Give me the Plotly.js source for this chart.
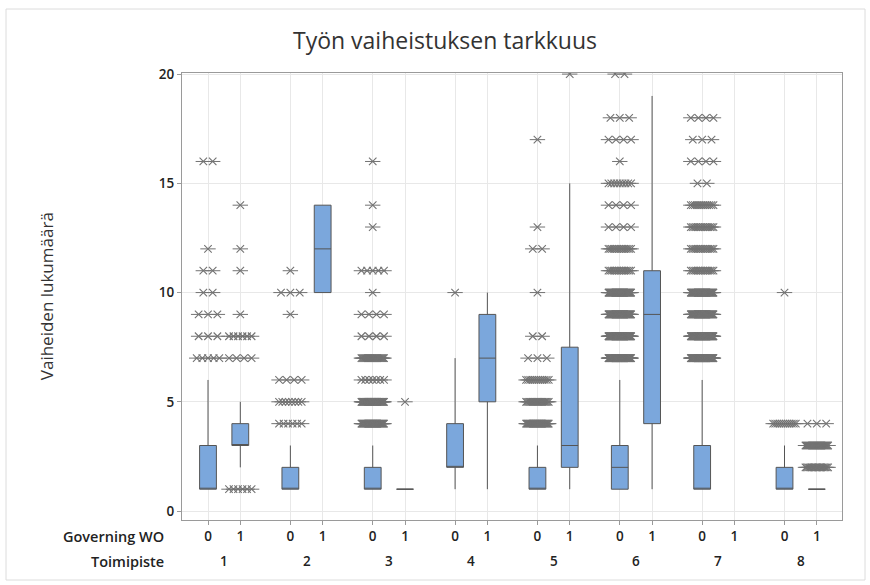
<!DOCTYPE html>
<html><head><meta charset="utf-8">
<script src="https://cdn.plot.ly/plotly-3.0.1.min.js"></script>
<style>html,body{margin:0;padding:0;background:#fff}#chart{width:870px;height:585px}</style>
</head><body><div id="chart"></div>
<script>
// ---- data ----
const toimipiste = [1,2,3,4,5,6,7,8];
const governingWO = [0,1];
const boxGroup = [1,1,2,2,3,3,4,4,5,5,6,6,7,8,8];
const boxWO    = [0,1,0,1,0,1,0,1,0,1,0,1,0,0,1];
const q1           = [1,3,1,10,1,1,2,5,1,2,  1,4, 1,1,1];
const median       = [1,3,1,12,1,1,2,7,1,3,  2,9, 1,1,1];
const q3           = [3,4,2,14,2,1,4,9,2,7.5,3,11,3,2,1];
const lowerWhisker = [1,2,1,10,1,1,1,1,1,1,  1,1, 1,1,1];
const upperWhisker = [6,5,3,14,3,1,7,10,3,15,6,19,6,3,1];
const outlierValues = [
  [7,8,9,10,11,12,16],
  [1,7,8,9,11,12,14],
  [4,5,6,9,10,11],
  [],
  [4,5,6,7,8,9,10,11,13,14,16],
  [5],
  [10],
  [],
  [4,5,6,7,8,10,12,13,17],
  [20],
  [7,8,9,10,11,12,13,14,15,16,17,18,20],
  [],
  [7,8,9,10,11,12,13,14,15,16,17,18],
  [4,10],
  [2,3,4]
];
const outlierCounts = [
  [5,3,3,2,2,1,2],
  [6,4,6,1,1,1,1],
  [6,8,4,1,3,1],
  [],
  [40,40,7,25,4,4,1,5,1,1,1],
  [1],
  [1],
  [],
  [35,20,12,3,2,1,2,1,1],
  [1],
  [60,60,60,60,14,14,4,4,9,1,4,3,2],
  [],
  [60,60,60,60,14,14,14,12,2,4,3,4],
  [12,1],
  [18,24,3]
];

// ---- layout helpers ----
const GROUP_STEP = 2.55;
const pos = (g, w) => (g - 1) * GROUP_STEP + w;
const BOX_FILL = '#7BA7DC', BOX_LINE = '#555555', STAR = '#737373';

const traces = [];
for (let i = 0; i < boxGroup.length; i++) {
  traces.push({
    type: 'box', x: [pos(boxGroup[i], boxWO[i])],
    q1: [q1[i]], median: [median[i]], q3: [q3[i]],
    lowerfence: [lowerWhisker[i]], upperfence: [upperWhisker[i]],
    width: 0.52, fillcolor: BOX_FILL,
    line: {color: BOX_LINE, width: 1}, whiskerwidth: 0,
    hoverinfo: 'skip', showlegend: false
  });
}
const sx = [], sy = [];
for (let i = 0; i < boxGroup.length; i++) {
  const c = pos(boxGroup[i], boxWO[i]);
  outlierValues[i].forEach((v, j) => {
    const n = outlierCounts[i][j];
    const sp = n > 1 ? Math.min(0.29, 0.70 / (n - 1)) : 0;
    for (let k = 0; k < n; k++) { sx.push(c + (k - (n - 1) / 2) * sp); sy.push(v); }
  });
}
traces.push({type:'scatter', mode:'markers', x:sx, y:sy, hoverinfo:'skip', showlegend:false,
  marker:{symbol:'line-ew-open', size:11, color:STAR, line:{color:STAR, width:1}}});
traces.push({type:'scatter', mode:'markers', x:sx, y:sy, hoverinfo:'skip', showlegend:false,
  marker:{symbol:'x-thin-open', size:7.5, color:STAR, line:{color:STAR, width:1.1}}});

const tickvals = [], ticktext = [];
toimipiste.forEach(g => governingWO.forEach(w => { tickvals.push(pos(g, w)); ticktext.push(String(w)); }));

const FONT = 'Open Sans, Noto Sans, sans-serif';
const annotations = toimipiste.map(g => ({
  text: String(g), xref: 'x', yref: 'paper', x: pos(g, 0) + 0.5, y: -0.092,
  xanchor: 'center', yanchor: 'middle', showarrow: false,
  font: {family: FONT, size: 13.5, color: '#222', weight: 600}
}));
annotations.push({text:'Governing WO', xref:'paper', yref:'paper', x:-0.024, y:-0.038,
  xanchor:'right', yanchor:'middle', showarrow:false, font:{family:FONT, size:14.5, color:'#222', weight:600}});
annotations.push({text:'Toimipiste', xref:'paper', yref:'paper', x:-0.024, y:-0.092,
  xanchor:'right', yanchor:'middle', showarrow:false, font:{family:FONT, size:14.5, color:'#222', weight:600}});
annotations.push({text:'Vaiheiden lukumäärä', xref:'paper', yref:'paper', x:-0.205, y:0.5,
  xanchor:'center', yanchor:'middle', textangle:-90, showarrow:false, font:{family:FONT, size:17, color:'#333'}});

const layout = {
  width: 870, height: 585,
  margin: {l: 182, r: 28, t: 73, b: 65},
  paper_bgcolor: '#fff', plot_bgcolor: '#fff',
  title: {text: 'Työn vaiheistuksen tarkkuus', x: 0.5115, xref: 'container', xanchor: 'center',
          y: 0.93, yref: 'container', yanchor: 'middle', font: {family: FONT, size: 23, color: '#333'}},
  xaxis: {range: [-0.805, 19.63], tickvals: tickvals, ticktext: ticktext, showgrid: true,
          gridcolor: '#e8e8e8', zeroline: false, showline: true, linecolor: '#9a9a9a', mirror: true,
          ticks: 'outside', ticklen: 4, tickcolor: '#9a9a9a',
          tickfont: {family: FONT, size: 13.5, color: '#222', weight: 600}},
  yaxis: {range: [-0.41, 20.05], tickvals: [0,5,10,15,20], showgrid: true, gridcolor: '#e8e8e8',
          zeroline: false, showline: true, linecolor: '#9a9a9a', mirror: true,
          ticks: 'outside', ticklen: 4, tickcolor: '#9a9a9a',
          tickfont: {family: FONT, size: 13.5, color: '#222', weight: 600}},
  annotations: annotations,
  shapes: [{type:'rect', xref:'paper', yref:'paper', x0:(6-182)/660, x1:(865-182)/660,
            y0:(520-580)/447, y1:(520-9)/447, line:{color:'#dcdcdc', width:1}, layer:'below'}],
  boxmode: 'overlay'
};
Plotly.newPlot('chart', traces, layout, {staticPlot: true, displayModeBar: false});
</script></body></html>
